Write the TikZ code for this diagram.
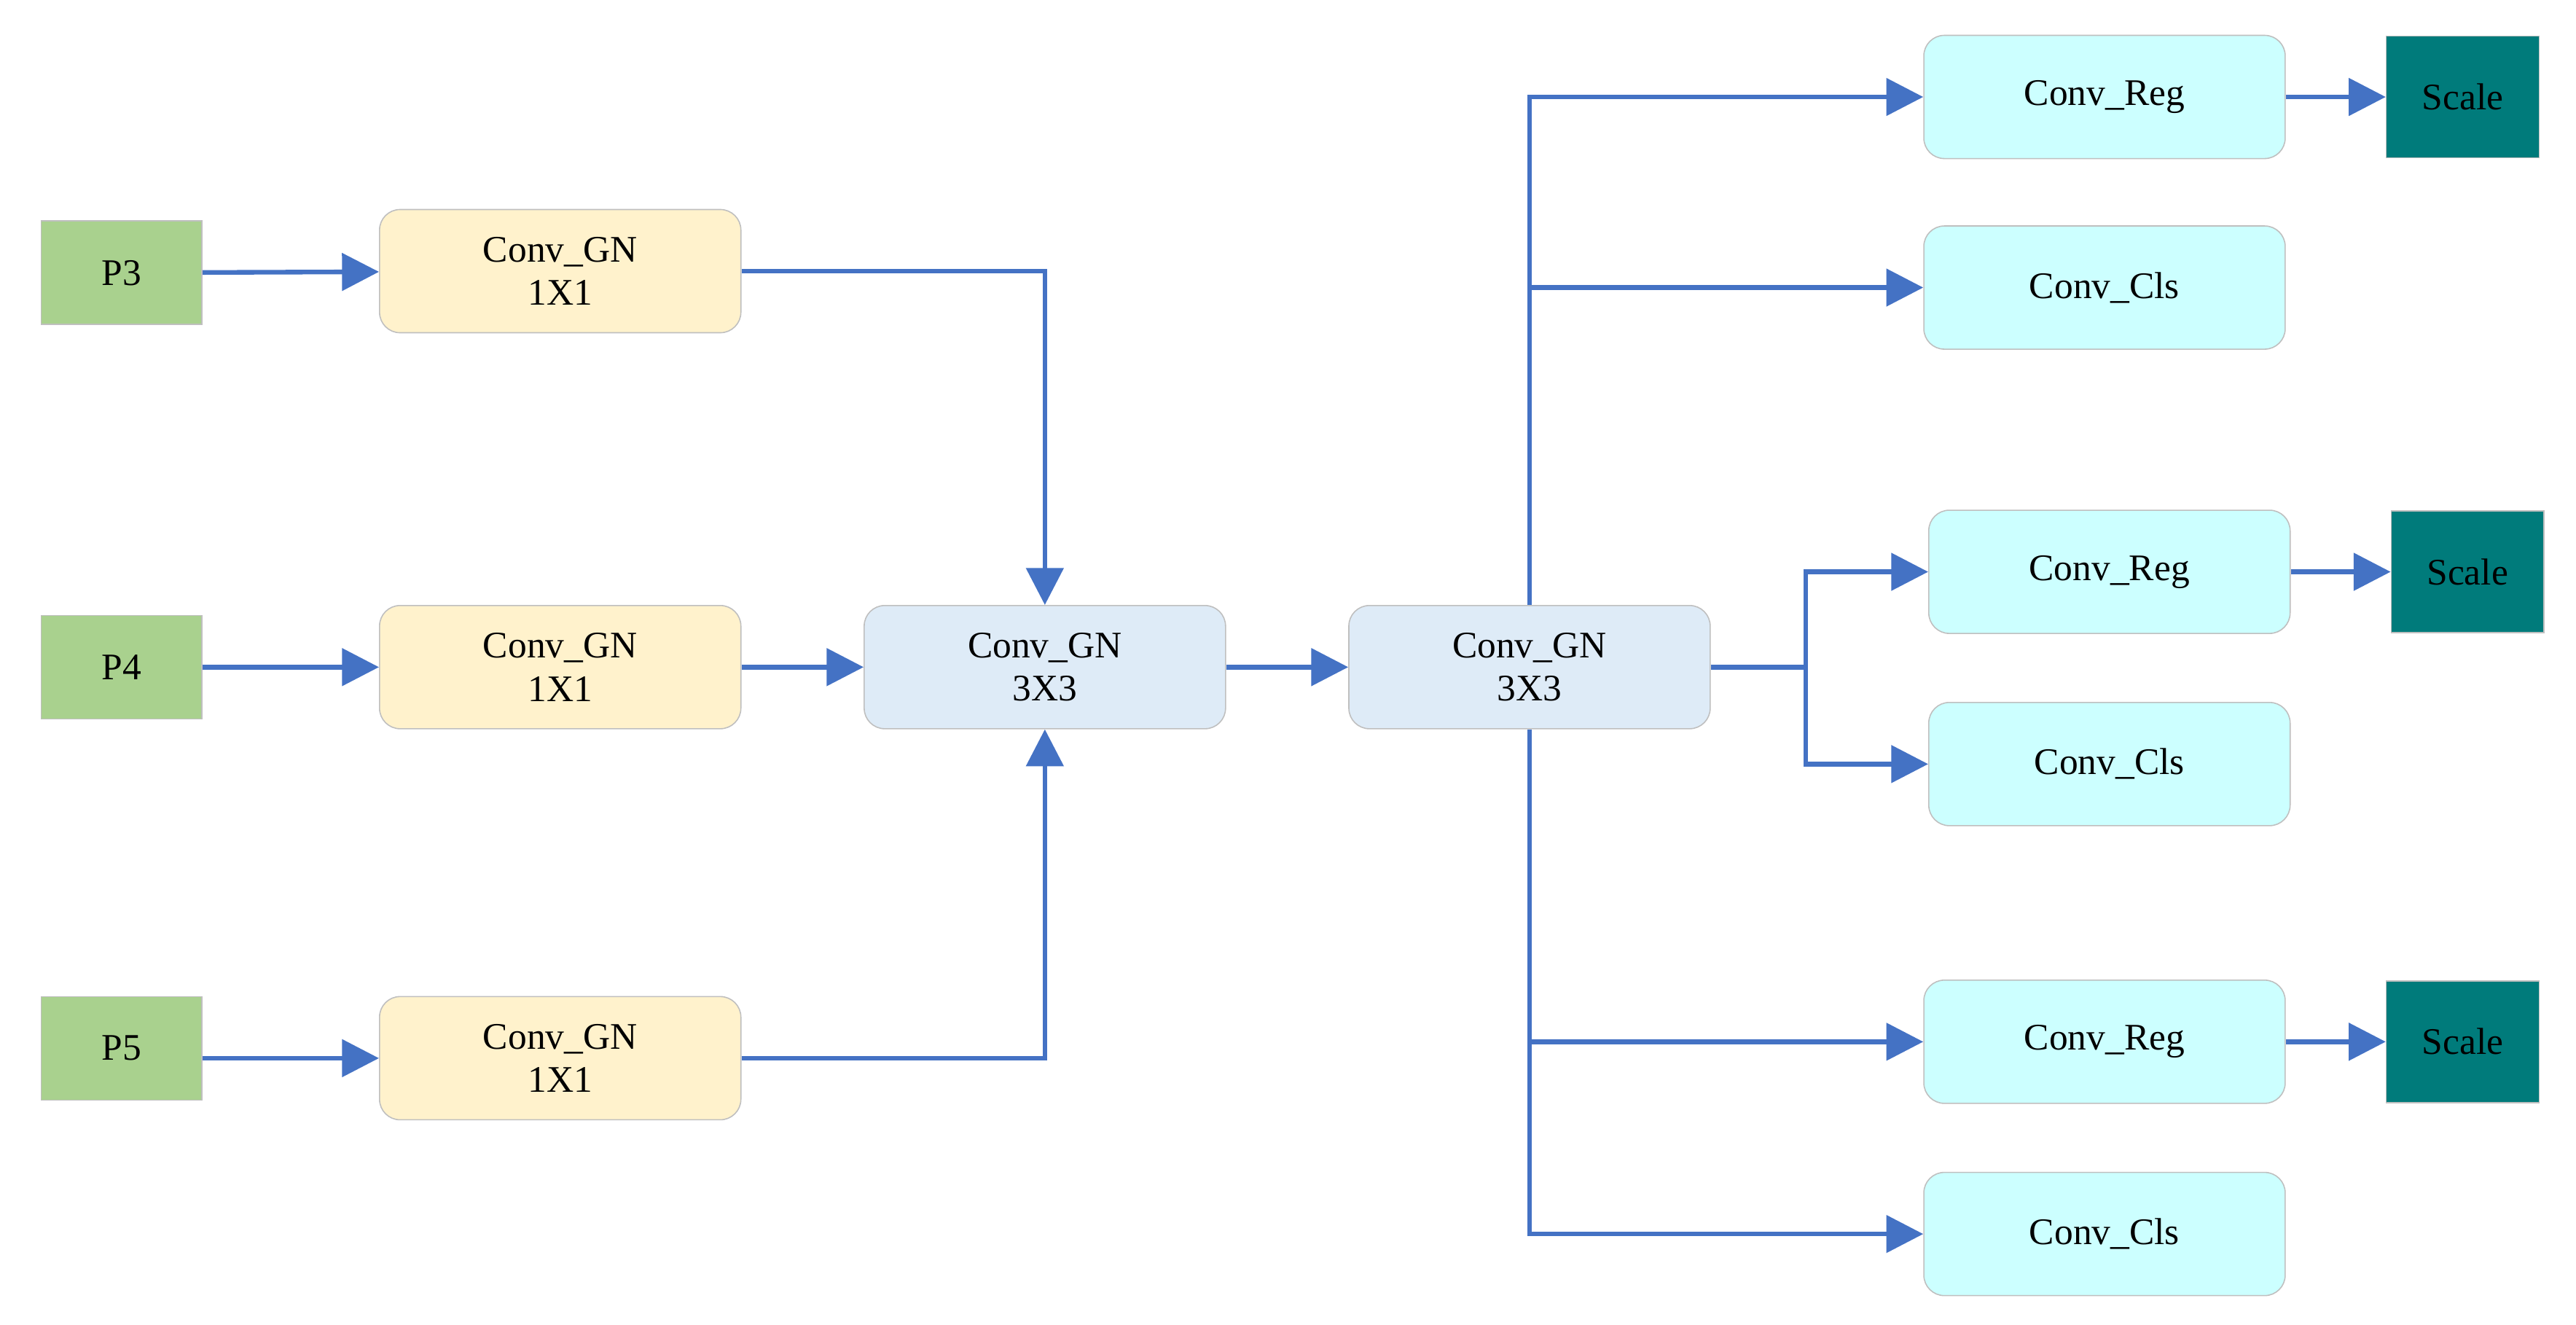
\documentclass[tikz,border=0pt]{standalone}
\usepackage{fontspec}
\setmainfont{Liberation Serif}
\usetikzlibrary{arrows.meta}
\definecolor{pgreen}{HTML}{A9D18E}
\definecolor{gnyellow}{HTML}{FFF2CC}
\definecolor{gnblue}{HTML}{DEEBF7}
\definecolor{headcyan}{HTML}{CCFFFF}
\definecolor{scaleteal}{HTML}{007B7B}
\definecolor{flowblue}{HTML}{4472C4}
\tikzset{
level/.style={
  rectangle,
  draw=black!25,
  fill=pgreen,
  minimum width=1.96cm,
  minimum height=1.26cm,
  font=\fontsize{13}{15}\selectfont,
},
gn/.style={
  rectangle,
  rounded corners=0.25cm,
  draw=black!25,
  align=center,
  minimum width=4.4cm,
  minimum height=1.5cm,
  font=\fontsize{13}{15}\selectfont,
},
head/.style={
  gn,
  fill=headcyan,
},
scalebox/.style={
  rectangle,
  draw=black!25,
  fill=scaleteal,
  minimum width=1.86cm,
  minimum height=1.48cm,
  font=\fontsize{13}{15}\selectfont,
},
flow/.style={
  draw=flowblue,
  line width=1.6pt,
  -{Triangle[length=0.45cm,width=0.45cm]},
},
}

\begin{document}
\begin{tikzpicture}[x=0.02cm, y=-0.02cm]
\useasboundingbox (0,0) rectangle (1568,806);
%input levels
\node[level](P3) at (74,166) {P3};
\node[level](P4) at (74,406) {P4};
\node[level](P5) at (74,638) {P5};
%1x1 convs
\node[gn, fill=gnyellow](gnA) at (341,165) {Conv\_GN\\1X1};
\node[gn, fill=gnyellow](gnB) at (341,406) {Conv\_GN\\1X1};
\node[gn, fill=gnyellow](gnC) at (341,644) {Conv\_GN\\1X1};
%3x3 convs
\node[gn, fill=gnblue](fuse) at (636,406) {Conv\_GN\\3X3};
\node[gn, fill=gnblue](share) at (931,406) {Conv\_GN\\3X3};
%heads
\node[head](regA) at (1281,59) {Conv\_Reg};
\node[head](clsA) at (1281,175) {Conv\_Cls};
\node[head](regB) at (1284,348) {Conv\_Reg};
\node[head](clsB) at (1284,465) {Conv\_Cls};
\node[head](regC) at (1281,634) {Conv\_Reg};
\node[head](clsC) at (1281,751) {Conv\_Cls};
\node[scalebox](scA) at (1499,59) {Scale};
\node[scalebox](scB) at (1502,348) {Scale};
\node[scalebox](scC) at (1499,634) {Scale};

\draw[flow](P3) -- (gnA);
\draw[flow](P4) -- (gnB);
\draw[flow](P5.east |- gnC) -- (gnC);
\draw[flow](gnA) -| (fuse);
\draw[flow](gnB) -- (fuse);
\draw[flow](gnC) -| (fuse);
\draw[flow](fuse) -- (share);

\coordinate (up) at (931,175);
\coordinate (down) at (931,634);
\coordinate (fork) at (1099,406);
\draw[flow](share) |- (regA);
\draw[flow](up) -- (clsA);
\draw[flow](share) |- (clsC);
\draw[flow](down) -- (regC);
\draw[line width=1.6pt, flowblue](share) -- (fork);
\draw[flow](fork) |- (regB);
\draw[flow](fork) |- (clsB);

\draw[flow](regA) -- (scA);
\draw[flow](regB) -- (scB);
\draw[flow](regC) -- (scC);

\end{tikzpicture}
\end{document}
